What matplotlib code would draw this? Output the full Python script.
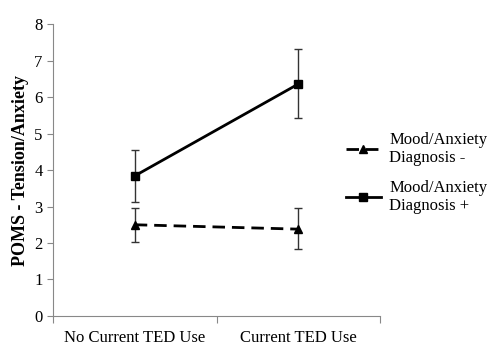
import matplotlib
matplotlib.use('Agg')
import matplotlib.pyplot as plt

plt.rcParams['font.family'] = ['Liberation Serif', 'DejaVu Serif']

categorias = ['No Current TED Use', 'Current TED Use']
diag_neg = [2.50, 2.38]
diag_neg_err_lo = [0.47, 0.55]
diag_neg_err_hi = [0.46, 0.58]
diag_pos = [3.84, 6.36]
diag_pos_err_lo = [0.72, 0.94]
diag_pos_err_hi = [0.71, 0.96]

fig = plt.figure(figsize=(4.9, 3.55), dpi=100)
ax = fig.add_axes([0.108, 0.110, 0.668, 0.822])

x = [0.5, 1.5]
ax.errorbar(x, diag_neg, yerr=[diag_neg_err_lo, diag_neg_err_hi], color='black', linestyle=(0, (4.5, 2.5)),
            linewidth=2, marker='^', markersize=6, capsize=3, elinewidth=1, ecolor='#333333',
            label='Mood/Anxiety\nDiagnosis -')
ax.errorbar(x, diag_pos, yerr=[diag_pos_err_lo, diag_pos_err_hi], color='black', linestyle='-',
            linewidth=2, marker='s', markersize=6, capsize=3, elinewidth=1, ecolor='#333333',
            label='Mood/Anxiety\nDiagnosis +')

ax.set_xlim(0, 2)
ax.set_ylim(0, 8)
ax.set_yticks(range(0, 9))
ax.set_xticks([0, 1, 2])
ax.set_xticklabels([])
ax.set_xticks(x, minor=True)
ax.set_xticklabels(categorias, minor=True)
ax.tick_params(axis='x', which='minor', length=0, pad=10, labelsize=12)
ax.tick_params(axis='x', which='major', length=5, color='#888888', direction='out')
ax.tick_params(axis='y', length=4, color='#888888', labelsize=12)
for s in ['top', 'right']:
    ax.spines[s].set_visible(False)
for s in ['left', 'bottom']:
    ax.spines[s].set_color('#888888')
ax.set_ylabel('POMS - Tension/Anxiety', fontsize=13, fontweight='bold', labelpad=4)

handles, labels = ax.get_legend_handles_labels()
handles = [h[0] for h in handles]
fig.legend(handles, labels, loc='center left', bbox_to_anchor=(0.675, 0.513), frameon=False,
           fontsize=12, handlelength=2.1, handletextpad=0.5, labelspacing=0.8)

plt.savefig('out.png', dpi=100)
